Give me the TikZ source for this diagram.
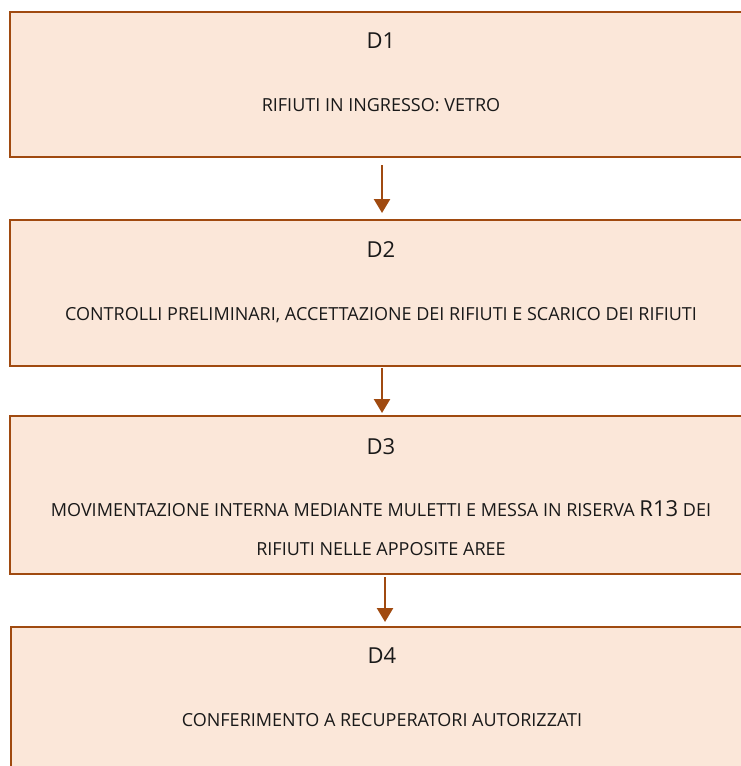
\documentclass[tikz,border=0pt]{standalone}
\usepackage{fontspec}
\setmainfont{Open Sans}
\usetikzlibrary{arrows.meta}
\definecolor{boxfill}{RGB}{251,231,217}
\definecolor{boxline}{RGB}{160,74,16}

\begin{document}
\begin{tikzpicture}[x=1pt,y=-1pt,
	stage/.style={draw=boxline, fill=boxfill, line width=2pt, minimum width=742pt, inner sep=0pt, outer sep=0pt},
	tag/.style={anchor=base, text=black!90, font=\fontsize{22}{26}\selectfont},
	body/.style={text=black!90, font=\fontsize{18}{39}\selectfont, align=center},
	flow/.style={draw=boxline, line width=2.5pt, -{Triangle[width=16pt,length=14pt]}}]
			\useasboundingbox (0,0) rectangle (741,766);
			% the four stages
			\node[stage, minimum height=144.5pt](d1) at (381,84.25){};
			\node[stage, minimum height=146pt](d2) at (381,293){};
			\node[stage, minimum height=158pt](d3) at (381,495){};
			\node[stage, minimum height=173pt](d4) at (382,713.5){};
			\node[tag](t1) at (381,48){D1};
			\node[body, anchor=base](b1) at (381,111.5){RIFIUTI IN INGRESSO: VETRO};
			\node[tag](t2) at (381,257){D2};
			\node[body, anchor=base](b2) at (381,320.5){CONTROLLI PRELIMINARI, ACCETTAZIONE DEI RIFIUTI E SCARICO DEI RIFIUTI};
			\node[tag](t3) at (381,454){D3};
			\node[body](b3) at (381,528){MOVIMENTAZIONE INTERNA MEDIANTE MULETTI E MESSA IN RISERVA {\fontsize{22}{26}\selectfont R13} DEI\\RIFIUTI NELLE APPOSITE AREE};
			\node[tag](t4) at (382,663){D4};
			\node[body, anchor=base](b4) at (382,726.5){CONFERIMENTO A RECUPERATORI AUTORIZZATI};
			% arrows between stages
			\draw[flow, shorten <=8.5pt, shorten >=7pt] ([xshift=1pt]d1.south) -- ([xshift=1pt]d2.north);
			\draw[flow, shorten <=2pt, shorten >=3pt] ([xshift=1pt]d2.south) -- ([xshift=1pt]d3.north);
			\draw[flow, shorten <=3pt, shorten >=5pt] ([xshift=4pt]d3.south) -- ([xshift=3pt]d4.north);
\end{tikzpicture}
\end{document}
